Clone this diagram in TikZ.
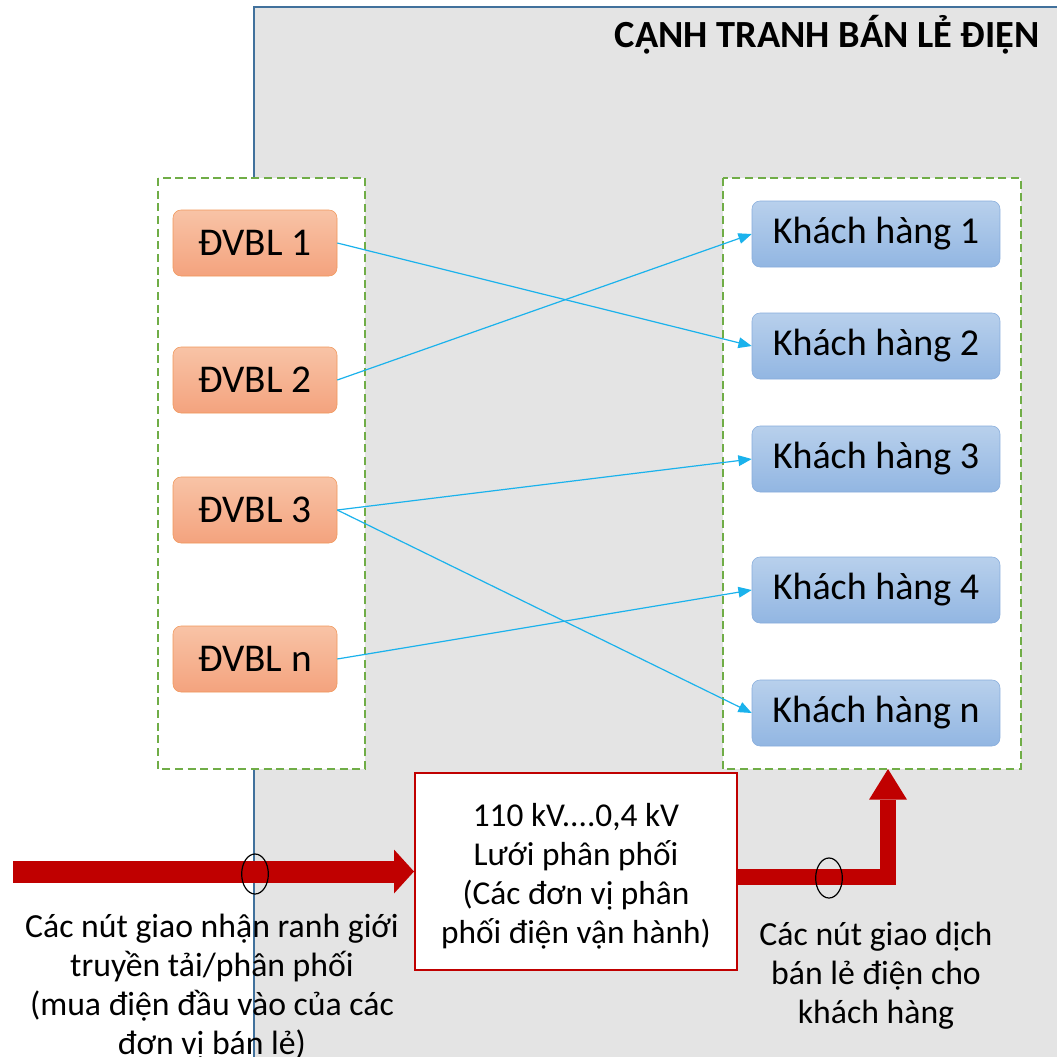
\documentclass[tikz,border=0pt]{standalone}
\usepackage{fontspec}
\setmainfont{Carlito}
\usetikzlibrary{arrows.meta,shapes.geometric}

\definecolor{frameblue}{HTML}{41719C}
\definecolor{panelgray}{HTML}{E4E4E4}
\definecolor{dashgreen}{HTML}{70AD47}
\definecolor{linkcyan}{HTML}{1AB2EC}
\definecolor{gridred}{HTML}{C00000}
\definecolor{retailtop}{HTML}{F8C3A6}
\definecolor{retailbot}{HTML}{F4A37E}
\definecolor{retailedge}{HTML}{F1975A}
\definecolor{custtop}{HTML}{B8D0EC}
\definecolor{custbot}{HTML}{92B6E2}
\definecolor{custedge}{HTML}{86ACDC}

\tikzset{
  retailer/.style={rounded corners=6pt, draw=retailedge, top color=retailtop,
    bottom color=retailbot, minimum width=123pt, minimum height=49.5pt,
    font=\fontsize{29.5}{34}\selectfont, inner sep=0pt},
  customer/.style={rounded corners=6pt, draw=custedge, top color=custtop,
    bottom color=custbot, minimum width=186pt, minimum height=49.5pt,
    font=\fontsize{28.5}{34}\selectfont, inner sep=0pt},
  group/.style={draw=dashgreen, fill=white, line width=1.5pt, dash pattern=on 6pt off 3.5pt},
  link/.style={draw=linkcyan, line width=0.9pt, -{Triangle[length=10pt,width=8pt]}},
  power/.style={draw=gridred, line width=16.5pt,
    -{Triangle[length=15pt,width=33pt,line width=0pt]}},
  ring/.style={shape=ellipse, draw=black, line width=0.9pt, minimum width=20pt,
    minimum height=30pt, inner sep=0pt},
  caption/.style={align=center, font=\fontsize{25.3}{29.3}\selectfont, inner sep=0pt}
}

\begin{document}
\begin{tikzpicture}[x=0.75pt, y=-0.75pt]
	\useasboundingbox (0,0) rectangle (1057,1057);
	
	% market area
	\fill[panelgray] (254,7) rectangle (1057,1057);
	\draw[frameblue, line width=2pt] (254,1057) -- (254,7) -- (1057,7);
	\node[anchor=base east, font=\fontsize{28.8}{32}\selectfont\bfseries, inner sep=0pt] (title) at (1040,47) {CẠNH TRANH BÁN LẺ ĐIỆN};
	
	% groups
	\draw[group] (158,178) rectangle (365,769);
	\draw[group] (723,178) rectangle (1021,769);
	
	\node[retailer] (r1) at (255, 243) {ĐVBL 1};
	\node[retailer] (r2) at (255, 380) {ĐVBL 2};
	\node[retailer] (r3) at (255, 510) {ĐVBL 3};
	\node[retailer] (rn) at (255, 659) {ĐVBL n};
	
	\node[customer] (c1) at (876, 234) {Khách hàng 1};
	\node[customer] (c2) at (876, 346) {Khách hàng 2};
	\node[customer] (c3) at (876, 459) {Khách hàng 3};
	\node[customer] (c4) at (876, 590) {Khách hàng 4};
	\node[customer] (cn) at (876, 713) {Khách hàng n};
	
	\path (r1.east) edge[link] (c2.west);
	\path (r2.east) edge[link] (c1.west);
	\path (r3.east) edge[link] (c3.west);
	\path (r3.east) edge[link] (cn.west);
	\path (rn.east) edge[link] (c4.west);
	
	% distribution grid
	\node[draw=gridred, fill=white, line width=1.5pt, minimum width=241.5pt,
	      minimum height=147.75pt] (grid) at (576, 871.5) {};
	\node[align=center, font=\fontsize{25}{29.3}\selectfont, inner sep=0pt] (gridtext)
	      at ([yshift=-3.5pt]grid.center) {110 kV....0,4 kV\\Lưới phân phối\\(Các đơn vị phân\\phối điện vận hành)};
	
	\coordinate (source) at (13, 871.5);
	\coordinate (bend) at (888, 877);
	\coordinate (delivery) at (888, 769);
	\draw[power] (source) -- (grid.west);
	\draw[power, line width=12pt, line join=miter,
	      -{Triangle[length=23pt,width=28.5pt,line width=0pt]}] (grid.east |- bend) -- (bend) -- (delivery);
	
	\node[ring] (cut1) at (255, 874) {};
	\node[ring] (cut2) at (829, 878) {};
	
	\node[caption, anchor=north] (in) at (212, 914)
	      {Các nút giao nhận ranh giới\\truyền tải/phân phối\\(mua điện đầu vào của các\\đơn vị bán lẻ)};
	\node[caption, anchor=north] (out) at (876, 922)
	      {Các nút giao dịch\\bán lẻ điện cho\\khách hàng};

\end{tikzpicture}
\end{document}
